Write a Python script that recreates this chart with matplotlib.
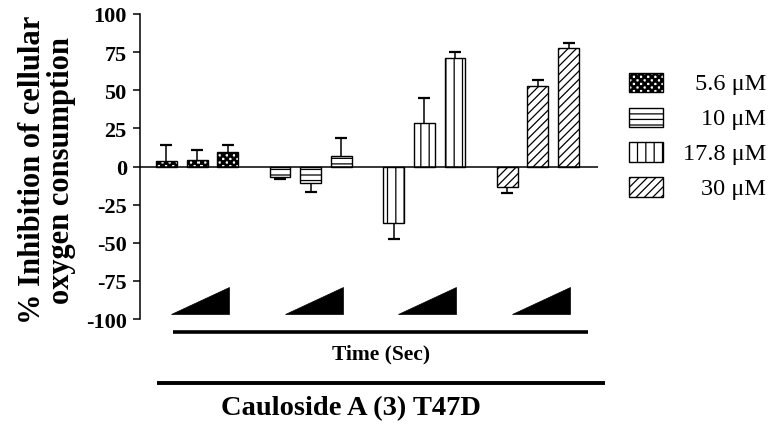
import warnings
import numpy as np
import matplotlib
matplotlib.use("Agg")
import matplotlib.pyplot as plt
import matplotlib.hatch as mhatch
from matplotlib.path import Path
from matplotlib.patches import Rectangle, Polygon

warnings.filterwarnings("ignore", category=matplotlib.MatplotlibDeprecationWarning)

plt.rcParams["font.family"] = ["Liberation Serif", "DejaVu Serif"]
plt.rcParams["hatch.linewidth"] = 0.9
plt.rcParams["hatch.color"] = "black"
plt.rcParams["axes.unicode_minus"] = False

# ---- data -------------------------------------------------------------
concentrations = ["5.6 μM", "10 μM", "17.8 μM", "30 μM"]
# three time points per concentration
inhibition = [
    [3.7, 4.1, 9.2],
    [-6.8, -11.0, 6.6],
    [-37.2, 28.7, 71.0],
    [-13.6, 52.9, 77.8],
]
sem = [
    [10.1, 6.8, 5.2],
    [1.1, 5.9, 11.8],
    [10.3, 16.1, 4.1],
    [3.9, 3.9, 3.5],
]
y_ticks = [-100, -75, -50, -25, 0, 25, 50, 75, 100]
patterns = ["cc", "---", "||", "////"]


# ---- checkerboard hatch ('c') ----------------------------------------
class CheckerHatch(mhatch.HatchPatternBase):
    """Filled checkerboard squares; each 'c' adds 14 cells per hatch tile."""

    def __init__(self, hatch, density):
        self.cells = 14 * hatch.count("c")
        self.num_vertices = (self.cells * self.cells + 1) // 2 * 5 if self.cells else 0

    def set_vertices_and_codes(self, vertices, codes):
        step = 1.0 / self.cells
        square = np.array([[0, 0], [1, 0], [1, 1], [0, 1], [0, 0]], float) * step
        square_codes = [Path.MOVETO, Path.LINETO, Path.LINETO, Path.LINETO,
                        Path.CLOSEPOLY]
        parts = [square + [i * step, j * step]
                 for i in range(self.cells) for j in range(self.cells)
                 if (i + j) % 2 == 0]
        vertices[:] = np.concatenate(parts)
        codes[:] = np.tile(square_codes, len(parts))


mhatch._hatch_types.append(CheckerHatch)

# ---- figure -----------------------------------------------------------
W, H = 771, 427
fig = plt.figure(figsize=(W / 100, H / 100), dpi=100)
ax = fig.add_axes([140 / W, 1 - 320 / H, 458 / W, 305 / H])

group_gap = 3.7
bar_width = 0.68

for g, (vals, errs, pat) in enumerate(zip(inhibition, sem, patterns)):
    xs = g * group_gap + np.arange(len(vals)) - 1
    ax.bar(xs, vals, width=bar_width, color="white", edgecolor="black",
           linewidth=1.0, hatch=pat, zorder=2)
    for x, v, e in zip(xs, vals, errs):
        lower, upper = (0.0, e) if v >= 0 else (e, 0.0)
        _, caps, _ = ax.errorbar(x, v, yerr=[[lower], [upper]], fmt="none",
                                 ecolor="black", elinewidth=1.1, capsize=4.2,
                                 capthick=1.6, zorder=1)
        for cap in caps:
            if np.allclose(cap.get_ydata(), v):
                cap.set_visible(False)

    # time ramp under each group
    c = g * group_gap
    ax.add_patch(Polygon([(c - 0.85, -96.4), (c + 1.05, -96.4), (c + 1.05, -79)],
                         closed=True, facecolor="black", edgecolor="black",
                         linewidth=0.5, zorder=2))

ax.axhline(0, color="black", linewidth=1.1, zorder=3)

ax.set_xlim(-1.86, 13.06)
ax.set_ylim(-100, 100)
ax.set_yticks(y_ticks)
ax.set_xticks([])
for side in ("top", "right", "bottom"):
    ax.spines[side].set_visible(False)
ax.spines["left"].set_linewidth(1.1)
ax.tick_params(axis="y", length=5, width=1.1, pad=4.5, labelsize=16)
for lbl in ax.get_yticklabels():
    lbl.set_fontweight("bold")

# bracket lines and captions below the axis
ax.plot([-0.77, 12.74], [-108.3, -108.3], color="black", linewidth=2.6,
        solid_capstyle="butt", clip_on=False)
ax.text(5.98, -122.5, "Time (Sec)", ha="center", va="center",
        fontsize=15.5, fontweight="bold", clip_on=False)
ax.plot([-1.3, 13.3], [-142, -142], color="black", linewidth=2.8,
        solid_capstyle="butt", clip_on=False)
ax.text(5.02, -158, "Cauloside A (3) T47D", ha="center", va="center",
        fontsize=20.5, fontweight="bold", clip_on=False)

fig.text(47 / W, 1 - 170 / H, "% Inhibition of cellular\noxygen consumption",
         rotation=90, ha="center", va="center", multialignment="center",
         fontsize=22, fontweight="bold", linespacing=1.0)

# legend
for i, (label, pat) in enumerate(zip(concentrations, patterns)):
    yc = 83 + 35 * i
    fig.add_artist(Rectangle((629 / W, 1 - (yc + 9.5) / H), 34 / W, 19 / H,
                             transform=fig.transFigure, facecolor="white",
                             edgecolor="black", linewidth=1.0, hatch=pat))
    fig.text(766 / W, 1 - (yc + 7) / H, label, ha="right", va="baseline",
             fontsize=17.5)

fig.savefig("out.png", dpi=100)
